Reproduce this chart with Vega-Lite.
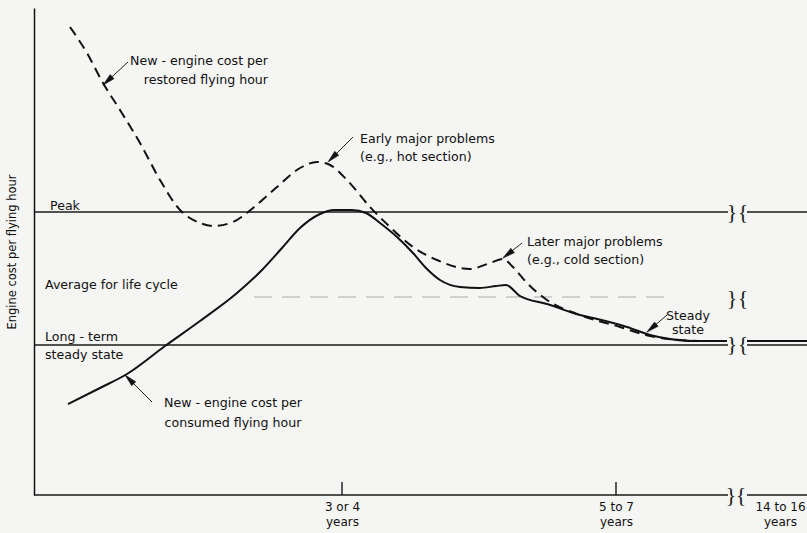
{
  "$schema": "https://vega.github.io/schema/vega-lite/v6.json",
  "width": 773,
  "height": 487,
  "autosize": {"type": "none"},
  "padding": {"left": 34, "top": 8, "right": 0, "bottom": 38},
  "background": "#f5f5f3",
  "config": {"view": {"stroke": null}, "font": "DejaVu Sans"},
  "datasets": {
    "curves": [
      {"s": "consumed", "seg": "a", "x": 34, "y": 91},
      {"s": "consumed", "seg": "a", "x": 66, "y": 107},
      {"s": "consumed", "seg": "a", "x": 93, "y": 121},
      {"s": "consumed", "seg": "a", "x": 131, "y": 149},
      {"s": "consumed", "seg": "a", "x": 166, "y": 174},
      {"s": "consumed", "seg": "a", "x": 203, "y": 202},
      {"s": "consumed", "seg": "a", "x": 228, "y": 225},
      {"s": "consumed", "seg": "a", "x": 248, "y": 247},
      {"s": "consumed", "seg": "a", "x": 266, "y": 267},
      {"s": "consumed", "seg": "a", "x": 286, "y": 281},
      {"s": "consumed", "seg": "a", "x": 300, "y": 285},
      {"s": "consumed", "seg": "a", "x": 318, "y": 285},
      {"s": "consumed", "seg": "a", "x": 332, "y": 282},
      {"s": "consumed", "seg": "a", "x": 346, "y": 272},
      {"s": "consumed", "seg": "a", "x": 363, "y": 258},
      {"s": "consumed", "seg": "a", "x": 379, "y": 242},
      {"s": "consumed", "seg": "a", "x": 393, "y": 226},
      {"s": "consumed", "seg": "a", "x": 406, "y": 215},
      {"s": "consumed", "seg": "a", "x": 426, "y": 208},
      {"s": "consumed", "seg": "a", "x": 446, "y": 207},
      {"s": "consumed", "seg": "a", "x": 462, "y": 209},
      {"s": "consumed", "seg": "a", "x": 472, "y": 210},
      {"s": "consumed", "seg": "a", "x": 486, "y": 199},
      {"s": "consumed", "seg": "a", "x": 513, "y": 191},
      {"s": "consumed", "seg": "a", "x": 546, "y": 180},
      {"s": "consumed", "seg": "a", "x": 559, "y": 177},
      {"s": "consumed", "seg": "a", "x": 593, "y": 168},
      {"s": "consumed", "seg": "a", "x": 616, "y": 160},
      {"s": "consumed", "seg": "a", "x": 636, "y": 156},
      {"s": "consumed", "seg": "a", "x": 659, "y": 154},
      {"s": "consumed", "seg": "a", "x": 693, "y": 154},
      {"s": "consumed", "seg": "b", "x": 713, "y": 154},
      {"s": "consumed", "seg": "b", "x": 773, "y": 154},
      {"s": "restored", "seg": "a", "x": 36, "y": 468},
      {"s": "restored", "seg": "a", "x": 53, "y": 442},
      {"s": "restored", "seg": "a", "x": 69, "y": 412},
      {"s": "restored", "seg": "a", "x": 86, "y": 385},
      {"s": "restored", "seg": "a", "x": 106, "y": 352},
      {"s": "restored", "seg": "a", "x": 126, "y": 315},
      {"s": "restored", "seg": "a", "x": 146, "y": 285},
      {"s": "restored", "seg": "a", "x": 166, "y": 272},
      {"s": "restored", "seg": "a", "x": 179, "y": 269},
      {"s": "restored", "seg": "a", "x": 199, "y": 273},
      {"s": "restored", "seg": "a", "x": 219, "y": 287},
      {"s": "restored", "seg": "a", "x": 243, "y": 308},
      {"s": "restored", "seg": "a", "x": 266, "y": 327},
      {"s": "restored", "seg": "a", "x": 283, "y": 333},
      {"s": "restored", "seg": "a", "x": 296, "y": 330},
      {"s": "restored", "seg": "a", "x": 313, "y": 315},
      {"s": "restored", "seg": "a", "x": 336, "y": 288},
      {"s": "restored", "seg": "a", "x": 356, "y": 268},
      {"s": "restored", "seg": "a", "x": 379, "y": 248},
      {"s": "restored", "seg": "a", "x": 403, "y": 235},
      {"s": "restored", "seg": "a", "x": 436, "y": 226},
      {"s": "restored", "seg": "a", "x": 456, "y": 232},
      {"s": "restored", "seg": "a", "x": 469, "y": 236},
      {"s": "restored", "seg": "a", "x": 479, "y": 228},
      {"s": "restored", "seg": "a", "x": 493, "y": 212},
      {"s": "restored", "seg": "a", "x": 513, "y": 195},
      {"s": "restored", "seg": "a", "x": 546, "y": 180},
      {"s": "restored", "seg": "a", "x": 586, "y": 168},
      {"s": "restored", "seg": "a", "x": 616, "y": 159},
      {"s": "restored", "seg": "a", "x": 646, "y": 155},
      {"s": "restored", "seg": "a", "x": 666, "y": 154}
    ],
    "hlines": [
      {"kind": "peak", "x": 0, "x2": 694, "y": 283},
      {"kind": "peak", "x": 713, "x2": 773, "y": 283},
      {"kind": "steady", "x": 0, "x2": 694, "y": 150},
      {"kind": "steady", "x": 713, "x2": 773, "y": 150},
      {"kind": "axis", "x": 0, "x2": 694, "y": 0},
      {"kind": "axis", "x": 713, "x2": 773, "y": 0},
      {"kind": "avg", "x": 220, "x2": 630, "y": 198}
    ],
    "ticks": [
      {"x": 308, "y": 0, "y2": 13},
      {"x": 582, "y": 0, "y2": 13}
    ],
    "breaks": [
      {"x": 698, "y": 283, "g": "}"}, {"x": 709, "y": 283, "g": "{"},
      {"x": 698, "y": 197, "g": "}"}, {"x": 709, "y": 197, "g": "{"},
      {"x": 698, "y": 151, "g": "}"}, {"x": 709, "y": 151, "g": "{"},
      {"x": 697, "y": 0, "g": "}"}, {"x": 707, "y": 0, "g": "{"}
    ],
    "arrows": [
      {"ax": 94, "ay": 433, "hx": 73.5, "hy": 414.1, "ang": 227},
      {"ax": 319, "ay": 358, "hx": 298.3, "hy": 337.3, "ang": 225},
      {"ax": 488, "ay": 252, "hx": 473.6, "hy": 240.6, "ang": 232},
      {"ax": 633, "ay": 180, "hx": 617.5, "hy": 166.8, "ang": 230},
      {"ax": 118, "ay": 93, "hx": 95.3, "hy": 115.7, "ang": 315}
    ],
    "textLeft": [
      {"x": 326, "y": 356, "t": "Early major problems\n(e.g., hot section)"},
      {"x": 493, "y": 253, "t": "Later major problems\n(e.g., cold section)"},
      {"x": 16, "y": 289, "t": "Peak"},
      {"x": 11, "y": 210, "t": "Average for life cycle"},
      {"x": 11, "y": 158, "t": "Long - term\nsteady state"}
    ],
    "textRight": [
      {"x": 234, "y": 434, "t": "New - engine cost per\nrestored flying hour"}
    ],
    "textCenter": [
      {"x": 199, "y": 92, "t": "New - engine cost per\nconsumed flying hour"}
    ],
    "textSteady": [
      {"x": 654, "y": 179, "t": "Steady\nstate"}
    ]
  },
  "encoding": {
    "x": {
      "field": "x", "type": "quantitative",
      "scale": {"domain": [0, 773], "nice": false, "zero": false},
      "axis": {
        "title": null, "domain": false, "ticks": false, "tickSize": 0, "grid": false,
        "values": [308, 582, 746],
        "labelExpr": "datum.value == 308 ? ['3 or 4', 'years'] : datum.value == 582 ? ['5 to 7', 'years'] : ['14 to 16', 'years']",
        "labelFont": "DejaVu Sans", "labelFontSize": 12, "labelColor": "#111",
        "labelPadding": 6, "labelLineHeight": 15, "labelOverlap": false, "labelFlush": false,
        "labelBaseline": "top", "labelAlign": "center"
      }
    },
    "y": {
      "field": "y", "type": "quantitative",
      "scale": {"domain": [0, 487], "nice": false, "zero": false},
      "axis": {
        "title": "Engine cost per flying hour", "domain": true, "domainColor": "#111", "domainWidth": 1.5,
        "ticks": false, "labels": false, "grid": false,
        "titleFont": "DejaVu Sans", "titleFontSize": 11.5, "titleFontWeight": "normal", "titleColor": "#111",
        "titleX": -22, "titleY": 243.5, "titleAngle": -90, "titleAlign": "center", "titleBaseline": "middle"
      }
    }
  },
  "layer": [
    {
      "data": {"name": "hlines"},
      "transform": [{"filter": "datum.kind != 'avg'"}],
      "mark": {"type": "rule", "color": "#1a1a1a", "strokeWidth": 1.4},
      "encoding": {"x2": {"field": "x2"}}
    },
    {
      "data": {"name": "hlines"},
      "transform": [{"filter": "datum.kind == 'avg'"}],
      "mark": {"type": "rule", "color": "#999", "strokeWidth": 1.2, "strokeDash": [18, 10], "opacity": 0.8},
      "encoding": {"x2": {"field": "x2"}}
    },
    {
      "data": {"name": "ticks"},
      "mark": {"type": "rule", "color": "#1a1a1a", "strokeWidth": 1.4},
      "encoding": {"y2": {"field": "y2"}}
    },
    {
      "data": {"name": "breaks"},
      "mark": {"type": "text", "font": "Liberation Serif", "fontSize": 22, "color": "#1a1a1a", "align": "center", "baseline": "middle"},
      "encoding": {"text": {"field": "g"}}
    },
    {
      "data": {"name": "curves"},
      "transform": [{"filter": "datum.s == 'consumed'"}],
      "mark": {"type": "line", "color": "#111", "strokeWidth": 2, "interpolate": "monotone"},
      "encoding": {"detail": {"field": "seg"}}
    },
    {
      "data": {"name": "curves"},
      "transform": [{"filter": "datum.s == 'restored'"}],
      "mark": {"type": "line", "color": "#111", "strokeWidth": 2, "interpolate": "monotone", "strokeDash": [10, 6]}
    },
    {
      "data": {"name": "arrows"},
      "mark": {"type": "rule", "color": "#222", "strokeWidth": 1},
      "encoding": {
        "x": {"field": "ax", "type": "quantitative"},
        "y": {"field": "ay", "type": "quantitative"},
        "x2": {"field": "hx"},
        "y2": {"field": "hy"}
      }
    },
    {
      "data": {"name": "arrows"},
      "mark": {"type": "point", "shape": "M0,-1L0.45,1L-0.45,1Z", "filled": true, "size": 160, "fill": "#111", "stroke": "#111", "strokeWidth": 0.5, "opacity": 1},
      "encoding": {
        "x": {"field": "hx", "type": "quantitative"},
        "y": {"field": "hy", "type": "quantitative"},
        "angle": {"field": "ang", "type": "quantitative", "scale": null}
      }
    },
    {
      "data": {"name": "textLeft"},
      "mark": {"type": "text", "align": "left", "baseline": "middle", "lineBreak": "\n", "lineHeight": 18, "fontSize": 12.6, "color": "#111"},
      "encoding": {"text": {"field": "t"}}
    },
    {
      "data": {"name": "textRight"},
      "mark": {"type": "text", "align": "right", "baseline": "middle", "lineBreak": "\n", "lineHeight": 19, "fontSize": 12.6, "color": "#111"},
      "encoding": {"text": {"field": "t"}}
    },
    {
      "data": {"name": "textCenter"},
      "mark": {"type": "text", "align": "center", "baseline": "middle", "lineBreak": "\n", "lineHeight": 20, "fontSize": 12.6, "color": "#111"},
      "encoding": {"text": {"field": "t"}}
    },
    {
      "data": {"name": "textSteady"},
      "mark": {"type": "text", "align": "center", "baseline": "middle", "lineBreak": "\n", "lineHeight": 14, "fontSize": 12.6, "color": "#111"},
      "encoding": {"text": {"field": "t"}}
    }
  ]
}
